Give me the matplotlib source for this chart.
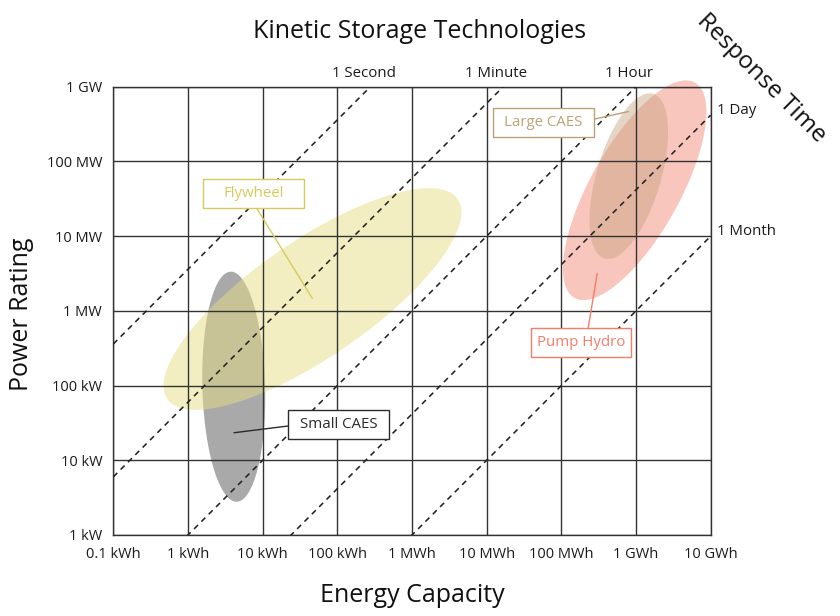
import numpy as np
import matplotlib
matplotlib.use("Agg")
import matplotlib.pyplot as plt
from matplotlib.patches import Rectangle

plt.rcParams['font.family'] = ['Open Sans', 'DejaVu Sans']

# ---------------- data ----------------
x_tick_values = [0.1, 1, 10, 100, 1e3, 1e4, 1e5, 1e6, 1e7]          # kWh
x_tick_labels = ['0.1 kWh', '1 kWh', '10 kWh', '100 kWh', '1 MWh',
                 '10 MWh', '100 MWh', '1 GWh', '10 GWh']
y_tick_values = [1, 10, 100, 1e3, 1e4, 1e5, 1e6]                     # kW
y_tick_labels = ['1 kW', '10 kW', '100 kW', '1 MW', '10 MW', '100 MW', '1 GW']

response_names = ['1 Second', '1 Minute', '1 Hour', '1 Day', '1 Month']
response_hours = [1 / 3600, 1 / 60, 1, 24, 1000]

tech_names = ['Small CAES', 'Flywheel', 'Pump Hydro', 'Large CAES']
tech_energy_center = [4.1, 46.5, 9.6e5, 8.0e5]        # kWh
tech_power_center = [96.6, 1442, 41100, 63500]        # kW
tech_major_decades = [1.54, 2.36, 1.65, 1.15]
tech_minor_decades = [0.42, 0.78, 0.60, 0.43]
tech_angle_deg = [91.5, 34.5, 60.8, 73.5]

# ---------------- styling ----------------
fill_colors = ['#A9A9A9', '#E6DE84', '#F8C6BC', '#C8A27F']
fill_alpha = [1.0, 0.5, 1.0, 0.45]
fill_z = [1.0, 1.5, 1.0, 1.5]
label_colors = {'Small CAES': '#2B2B2B', 'Flywheel': '#D6CB5A',
                'Pump Hydro': '#F47D69', 'Large CAES': '#BBA276'}
# label box centres / leader lines in log10 units (layout)
box_center = {'Flywheel': (0.874, 4.568), 'Small CAES': (2.019, 1.479),
              'Large CAES': (4.757, 5.516), 'Pump Hydro': (5.264, 2.573)}
leader = {'Flywheel': ((0.92, 4.373), (1.664, 3.169)),
          'Small CAES': ((1.343, 1.459), (0.620, 1.369)),
          'Large CAES': ((5.435, 5.565), (5.894, 5.667)),
          'Pump Hydro': ((5.359, 2.767), (5.479, 3.494))}
BOX_W, BOX_H = 1.35, 0.39
TXT = '#1A1A1A'

fig = plt.figure(figsize=(8.4, 6.16), dpi=100)
ax = fig.add_axes([113.3 / 840, 1 - 535 / 616, 597.4 / 840, 448.3 / 616])
ax.set_xscale('log')
ax.set_yscale('log')
ax.set_xlim(x_tick_values[0], x_tick_values[-1])
ax.set_ylim(y_tick_values[0], y_tick_values[-1])

# ellipses
t = np.linspace(0, 2 * np.pi, 300)
for i, name in enumerate(tech_names):
    cx, cy = np.log10(tech_energy_center[i]), np.log10(tech_power_center[i])
    a, b = tech_major_decades[i], tech_minor_decades[i]
    th = np.deg2rad(tech_angle_deg[i])
    X = cx + a * np.cos(t) * np.cos(th) - b * np.sin(t) * np.sin(th)
    Y = cy + a * np.cos(t) * np.sin(th) + b * np.sin(t) * np.cos(th)
    ax.fill(10 ** X, 10 ** Y, color=fill_colors[i], alpha=fill_alpha[i],
            lw=0, zorder=fill_z[i], clip_on=False)

# grid
ax.set_xticks(x_tick_values)
ax.set_xticklabels(x_tick_labels)
ax.set_yticks(y_tick_values)
ax.set_yticklabels(y_tick_labels)
ax.minorticks_off()
ax.tick_params(length=0, labelsize=10.5, colors=TXT)
ax.tick_params(axis='x', pad=9)
ax.tick_params(axis='y', pad=8)
ax.grid(True, color='#333333', lw=1.0)
ax.set_axisbelow(False)
for s in ax.spines.values():
    s.set_color('#333333')
    s.set_linewidth(1.0)
    s.set_zorder(3)

# response time lines
E = np.logspace(-1, 7, 50)
xmax, ymax = x_tick_values[-1], y_tick_values[-1]
for name, h in zip(response_names, response_hours):
    ax.plot(E, E / h, color='#222222', lw=1.15, ls=(0, (3.5, 3)), zorder=3.5)
    e_top = h * ymax
    if e_top <= xmax:
        ax.annotate(name, (e_top, ymax), xytext=(-7, 13), textcoords='offset pixels',
                    ha='center', va='center', fontsize=10.8, color=TXT,
                    annotation_clip=False)
    else:
        ax.annotate(name, (xmax, xmax / h), xytext=(6, 5), textcoords='offset pixels',
                    ha='left', va='center', fontsize=10.8, color=TXT,
                    annotation_clip=False)

# label boxes
for name in tech_names:
    c = label_colors[name]
    bx, by = box_center[name]
    ax.add_patch(Rectangle((10 ** (bx - BOX_W / 2), 10 ** (by - BOX_H / 2)),
                           10 ** (bx + BOX_W / 2) - 10 ** (bx - BOX_W / 2),
                           10 ** (by + BOX_H / 2) - 10 ** (by - BOX_H / 2),
                           facecolor='white', edgecolor=c, lw=1.0, zorder=5))
    ax.text(10 ** bx, 10 ** by, name, ha='center', va='center', fontsize=10.8,
            color=c, zorder=6)
    (x0, y0), (x1, y1) = leader[name]
    ax.plot([10 ** x0, 10 ** x1], [10 ** y0, 10 ** y1], color=c, lw=1.0, zorder=4.5)

fig.text(420 / 840, 1 - 31 / 616, 'Kinetic Storage Technologies', ha='center',
         va='center', fontsize=18, color='#111111')
fig.text(412 / 840, 1 - 596 / 616, 'Energy Capacity', ha='center', va='center',
         fontsize=18, color='#111111')
fig.text(22 / 840, 1 - 314 / 616, 'Power Rating', ha='center', va='center',
         fontsize=18, color='#111111', rotation=90)
fig.text(761 / 840, 1 - 78 / 616, 'Response Time', ha='center', va='center',
         fontsize=17.5, color='#111111', rotation=-45, rotation_mode='anchor')

fig.savefig('out.png', dpi=100)
